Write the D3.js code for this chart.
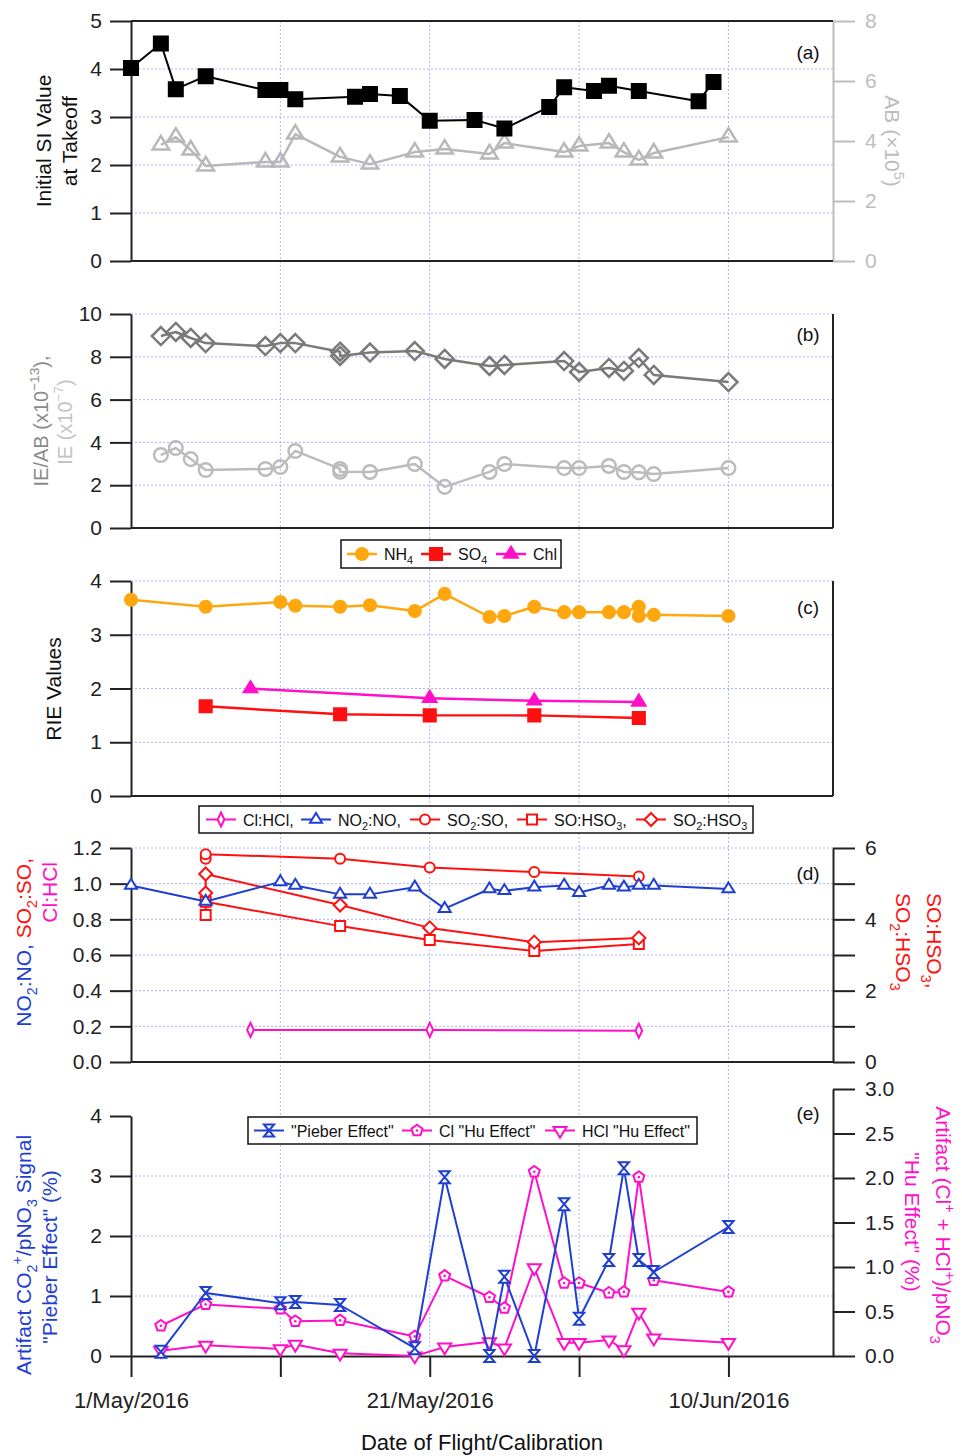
<!DOCTYPE html>
<html>
<head>
<meta charset="utf-8">
<script src="https://cdn.jsdelivr.net/npm/d3@7"></script>
<style>
  body { margin: 0; background: #fff; }
  svg { display: block; font-family: "Liberation Sans", Arial, sans-serif; }
</style>
</head>
<body>
<svg id="chart" width="962" height="1456"></svg>
<script>
const parseDay = (s) => d3.timeParse('%Y-%m-%d')('2016-' + s);

// ---- (a) initial SI value and AB ----
const siDates = ['05-01', '05-03', '05-04', '05-06', '05-10', '05-11', '05-12', '05-16', '05-17', '05-19',
  '05-21', '05-24', '05-26', '05-29', '05-30', '06-01', '06-02', '06-04', '06-08', '06-09'];
const siValues = [4.02, 4.53, 3.58, 3.85, 3.56, 3.56, 3.37, 3.42, 3.48, 3.44,
  2.92, 2.94, 2.76, 3.21, 3.62, 3.54, 3.65, 3.54, 3.33, 3.73];
const abDates = ['05-03', '05-04', '05-05', '05-06', '05-10', '05-11', '05-12', '05-15', '05-17', '05-20',
  '05-22', '05-25', '05-26', '05-30', '05-31', '06-02', '06-03', '06-04', '06-05', '06-10'];
const abValues = [3.87, 4.13, 3.7, 3.17, 3.3, 3.3, 4.23, 3.47, 3.23, 3.63,
  3.73, 3.57, 3.93, 3.63, 3.83, 3.93, 3.63, 3.37, 3.6, 4.13];

// ---- (b) IE/AB and IE ----
const calDates = ['05-03', '05-04', '05-05', '05-06', '05-10', '05-11', '05-12', '05-15', '05-15', '05-17',
  '05-20', '05-22', '05-25', '05-26', '05-30', '05-31', '06-02', '06-03', '06-04', '06-05', '06-10'];
const ieabValues = [8.97, 9.16, 8.88, 8.64, 8.5, 8.64, 8.64, 8.24, 8.04, 8.2,
  8.27, 7.9, 7.57, 7.62, 7.8, 7.29, 7.48, 7.34, 7.94, 7.15, 6.82];
const ieValues = [3.41, 3.74, 3.22, 2.71, 2.76, 2.85, 3.6, 2.76, 2.63, 2.62,
  2.99, 1.92, 2.62, 2.99, 2.8, 2.8, 2.9, 2.62, 2.6, 2.52, 2.8];

// ---- (c) RIE values ----
const nh4Dates = ['05-01', '05-06', '05-11', '05-12', '05-15', '05-17', '05-20', '05-22', '05-25', '05-26',
  '05-28', '05-30', '05-31', '06-02', '06-03', '06-04', '06-04', '06-05', '06-10'];
const nh4Values = [3.65, 3.52, 3.61, 3.54, 3.52, 3.55, 3.44, 3.76, 3.33, 3.35,
  3.52, 3.42, 3.42, 3.42, 3.42, 3.52, 3.35, 3.37, 3.35];
const so4Dates = ['05-06', '05-15', '05-21', '05-28', '06-04'];
const so4Values = [1.67, 1.52, 1.5, 1.5, 1.45];
const chlDates = ['05-09', '05-21', '05-28', '06-04'];
const chlValues = [2.0, 1.82, 1.77, 1.75];

// ---- (d) fragment ratios ----
const no2Dates = ['05-01', '05-06', '05-11', '05-12', '05-15', '05-17', '05-20', '05-22', '05-25', '05-26',
  '05-28', '05-30', '05-31', '06-02', '06-03', '06-04', '06-05', '06-10'];
const no2Values = [0.99, 0.90, 1.01, 0.99, 0.94, 0.94, 0.98, 0.86, 0.97, 0.96,
  0.98, 0.99, 0.95, 0.99, 0.98, 0.99, 0.99, 0.97];
const clhclDates = ['05-09', '05-21', '06-04'];
const clhclValues = [0.18, 0.18, 0.175];
const so2Dates = ['05-06', '05-06', '05-15', '05-21', '05-28', '06-04'];
const so2soValues = [1.14, 1.165, 1.14, 1.09, 1.065, 1.04];
const soHso3Values = [4.12, 4.49, 3.81, 3.42, 3.11, 3.31];
const so2Hso3Values = [4.74, 5.27, 4.4, 3.76, 3.36, 3.48];

// ---- (e) artifacts ----
const artDates = ['05-03', '05-06', '05-11', '05-12', '05-15', '05-20', '05-22', '05-25', '05-26', '05-28',
  '05-30', '05-31', '06-02', '06-03', '06-04', '06-05', '06-10'];
const pieberValues = [0.07, 1.05, 0.88, 0.9, 0.85, 0.13, 2.98, 0.0, 1.32, 0.0,
  2.53, 0.62, 1.6, 3.13, 1.6, 1.4, 2.15];
const clHuValues = [0.34, 0.58, 0.53, 0.39, 0.40, 0.22, 0.9, 0.66, 0.54, 2.07,
  0.82, 0.82, 0.71, 0.72, 2.01, 0.85, 0.72];
const hclHuValues = [0.06, 0.12, 0.08, 0.13, 0.03, 0.0, 0.1, 0.16, 0.09, 0.99,
  0.15, 0.15, 0.18, 0.07, 0.49, 0.2, 0.15];

// ---- axes ----
const dateTicks = ['05-01', '05-11', '05-21', '05-31', '06-10'];
const dateTickLabels = ['1/May/2016', '', '21/May/2016', '', '10/Jun/2016'];
const aLeftTicks = [0, 1, 2, 3, 4, 5];
const aRightTicks = [0, 2, 4, 6, 8];
const bTicks = [0, 2, 4, 6, 8, 10];
const cTicks = [0, 1, 2, 3, 4];
const dLeftTicks = [0, 0.2, 0.4, 0.6, 0.8, 1.0, 1.2];
const dRightTicks = [0, 1, 2, 3, 4, 5, 6];
const eLeftTicks = [0, 1, 2, 3, 4];
const eRightTicks = [0, 0.5, 1.0, 1.5, 2.0, 2.5, 3.0];

const BLUE = '#1f3fd0';
const RED = '#ff1010';
const MAG = '#ff10c8';
const ORANGE = '#ffa70f';
const AXIS = '#222';
const GRID = '#aab4ff';

const svg = d3.select('#chart');
const x = d3.scaleTime().domain([parseDay('05-01'), parseDay('06-17')]).range([131, 833]);
const [X0, X1] = x.range();

const yA = d3.scaleLinear().domain([0, 5]).range([261, 21]);
const yAR = d3.scaleLinear().domain([0, 8]).range([261, 21]);
const yB = d3.scaleLinear().domain([0, 10]).range([528, 314]);
const yC = d3.scaleLinear().domain([0, 4]).range([796, 581]);
const yD = d3.scaleLinear().domain([0, 1.2]).range([1062, 848]);
const yDR = d3.scaleLinear().domain([0, 6]).range([1062, 848]);
const yE = d3.scaleLinear().domain([0, 4]).range([1356, 1116]);
const yER = d3.scaleLinear().domain([0, 3]).range([1356, 1089]);

const gridG = svg.append('g');
const axisG = svg.append('g');
const markG = svg.append('g');
const textG = svg.append('g');

// vertical grid running through all panels
gridG.selectAll(null).data(dateTicks.slice(1)).enter().append('line')
  .attr('x1', (d) => x(parseDay(d))).attr('x2', (d) => x(parseDay(d)))
  .attr('y1', yA.range()[1]).attr('y2', yE.range()[0])
  .attr('stroke', GRID).attr('stroke-dasharray', '2,2');

function hGrid(yS, vals) {
  gridG.selectAll(null).data(vals).enter().append('line')
    .attr('x1', X0).attr('x2', X1).attr('y1', (d) => yS(d)).attr('y2', (d) => yS(d))
    .attr('stroke', GRID).attr('stroke-dasharray', '2,2');
}
hGrid(yA, [1, 2, 3, 4]);
hGrid(yB, [2, 4, 6, 8, 10]);
hGrid(yC, [1, 2, 3, 4]);
hGrid(yD, dLeftTicks.slice(1));
hGrid(yE, [1, 2, 3]);

function styleAxis(g, color) {
  g.attr('font-size', 21).attr('font-family', null).attr('color', color);
  g.selectAll('.domain, .tick line').attr('stroke-width', 2);
}
function leftAxis(yS, ticks, fmt) {
  const g = axisG.append('g').attr('transform', `translate(${X0},0)`)
    .call(d3.axisLeft(yS).tickValues(ticks).tickSize(21).tickSizeOuter(0).tickPadding(8)
      .tickFormat(fmt || d3.format('d')));
  styleAxis(g, AXIS);
}
function rightAxis(yS, ticks, fmt, color) {
  const g = axisG.append('g').attr('transform', `translate(${X1},0)`)
    .call(d3.axisRight(yS).tickValues(ticks).tickSize(22).tickSizeOuter(0).tickPadding(10)
      .tickFormat(fmt || d3.format('d')));
  styleAxis(g, color || AXIS);
}
function hLine(y0, color) {
  axisG.append('line').attr('x1', X0).attr('x2', X1).attr('y1', y0).attr('y2', y0)
    .attr('stroke', color || AXIS).attr('stroke-width', 2);
}
function rightBorder(yS) {
  axisG.append('line').attr('x1', X1).attr('x2', X1).attr('y1', yS.range()[0]).attr('y2', yS.range()[1])
    .attr('stroke', AXIS).attr('stroke-width', 2);
}

// (a)
leftAxis(yA, aLeftTicks);
rightAxis(yAR, aRightTicks, null, '#bdbdbd');
hLine(yA.range()[0]);
hLine(yA.range()[1]);
// (b)
leftAxis(yB, bTicks);
hLine(yB.range()[0]);
rightBorder(yB);
// (c)
leftAxis(yC, cTicks);
hLine(yC.range()[0]);
rightBorder(yC);
// (d)
leftAxis(yD, dLeftTicks, d3.format('.1f'));
rightAxis(yDR, dRightTicks, (d) => (d % 2 === 0 ? d : ''));
hLine(yD.range()[0]);
// (e)
leftAxis(yE, eLeftTicks);
rightAxis(yER, eRightTicks, d3.format('.1f'));
const bottom = axisG.append('g').attr('transform', `translate(0,${yE.range()[0]})`)
  .call(d3.axisBottom(x).tickValues(dateTicks.map(parseDay)).tickSize(21).tickSizeOuter(0).tickPadding(15)
    .tickFormat((d, i) => dateTickLabels[i]));
styleAxis(bottom, AXIS);
bottom.attr('font-size', 22);

// ---- markers & series ----
function markerPath(type, s) {
  switch (type) {
    case 'square': return `M${-s},${-s}H${s}V${s}H${-s}Z`;
    case 'triUp': return `M0,${-1.2 * s}L${1.1 * s},${0.6 * s}L${-1.1 * s},${0.6 * s}Z`;
    case 'triDown': return `M0,${1.2 * s}L${1.1 * s},${-0.6 * s}L${-1.1 * s},${-0.6 * s}Z`;
    case 'diamond': return `M0,${-s}L${s},0L0,${s}L${-s},0Z`;
    case 'thinDiamond': return `M0,${-s}L${0.48 * s},0L0,${s}L${-0.48 * s},0Z`;
    case 'hourglass': return `M${-0.85 * s},${-s}H${0.85 * s}L${-0.85 * s},${s}H${0.85 * s}Z`;
    case 'pentagon': {
      const pts = d3.range(5).map((k) => {
        const a = -Math.PI / 2 + (k * 2 * Math.PI) / 5;
        return [s * Math.cos(a), s * Math.sin(a)];
      });
      return `M${pts.map((p) => p.join(',')).join('L')}Z`;
    }
    default: return `M${s},0A${s},${s} 0 1,1 ${-s},0A${s},${s} 0 1,1 ${s},0Z`;
  }
}

function drawMarker(g, cx, cy, st) {
  g.append('path').attr('transform', `translate(${cx},${cy})`)
    .attr('d', markerPath(st.marker, st.size))
    .attr('fill', st.fill || 'none').attr('stroke', st.color).attr('stroke-width', st.mw || st.lw);
  if (st.marker === 'pentagon') {
    g.append('circle').attr('cx', cx).attr('cy', cy).attr('r', 1.3).attr('fill', st.color);
  }
}

function series(dates, values, yS, st) {
  const pts = dates.map((d, i) => [x(parseDay(d)), yS(values[i])]);
  markG.append('path').datum(pts).attr('d', d3.line())
    .attr('fill', 'none').attr('stroke', st.color).attr('stroke-width', st.lw).attr('stroke-linejoin', 'round');
  pts.forEach((p) => drawMarker(markG, p[0], p[1], st));
}

const stSI = { color: '#000', lw: 2, marker: 'square', size: 7, fill: '#000' };
const stAB = { color: '#b8b8b8', lw: 2.5, marker: 'triUp', size: 7.5 };
const stIEAB = { color: '#7a7a7a', lw: 2.5, marker: 'diamond', size: 9 };
const stIE = { color: '#bcbcbc', lw: 2.5, marker: 'circle', size: 6.8 };
const stNH4 = { color: ORANGE, lw: 2.5, marker: 'circle', size: 5.8, fill: ORANGE };
const stSO4 = { color: RED, lw: 2.5, marker: 'square', size: 5.8, fill: RED };
const stChl = { color: MAG, lw: 2.5, marker: 'triUp', size: 5.8, fill: MAG };
const stClHCl = { color: MAG, lw: 2, marker: 'thinDiamond', size: 7, fill: '#fff' };
const stNO2 = { color: BLUE, lw: 2, marker: 'triUp', size: 5.5, fill: '#fff' };
const stSO2SO = { color: RED, lw: 2, marker: 'circle', size: 5, fill: '#fff' };
const stSOHSO3 = { color: RED, lw: 2, marker: 'square', size: 5, fill: '#fff' };
const stSO2HSO3 = { color: RED, lw: 2, marker: 'diamond', size: 6.5, fill: '#fff' };
const stPieber = { color: BLUE, lw: 2, marker: 'hourglass', size: 6, fill: '#fff' };
const stClHu = { color: MAG, lw: 2, marker: 'pentagon', size: 5.8, fill: '#fff' };
const stHClHu = { color: MAG, lw: 2, marker: 'triDown', size: 6, fill: '#fff' };

series(abDates, abValues, yAR, stAB);
series(siDates, siValues, yA, stSI);
series(calDates, ieValues, yB, stIE);
series(calDates, ieabValues, yB, stIEAB);
series(nh4Dates, nh4Values, yC, stNH4);
series(so4Dates, so4Values, yC, stSO4);
series(chlDates, chlValues, yC, stChl);
series(so2Dates, soHso3Values, yDR, stSOHSO3);
series(so2Dates, so2Hso3Values, yDR, stSO2HSO3);
series(so2Dates, so2soValues, yD, stSO2SO);
series(clhclDates, clhclValues, yD, stClHCl);
series(no2Dates, no2Values, yD, stNO2);
series(artDates, hclHuValues, yER, stHClHu);
series(artDates, clHuValues, yER, stClHu);
series(artDates, pieberValues, yE, stPieber);

// ---- text helpers ----
function rich(sel, segments, fs) {
  let shift = 0;
  segments.forEach(([str, color]) => {
    str.split(/(_\{[^}]*\}|\^\{[^}]*\})/).filter((s) => s !== '').forEach((part) => {
      let target = 0;
      let t = part;
      let size = fs;
      if (part.startsWith('_{')) { target = fs * 0.28; t = part.slice(2, -1); size = fs * 0.68; }
      else if (part.startsWith('^{')) { target = -fs * 0.45; t = part.slice(2, -1); size = fs * 0.68; }
      sel.append('tspan').attr('dy', target - shift).attr('font-size', size).attr('fill', color).text(t);
      shift = target;
    });
  });
}
function title(tx, ty, angle, anchor, segments, fs) {
  const t = textG.append('text').attr('transform', `translate(${tx},${ty}) rotate(${angle})`)
    .attr('text-anchor', anchor).attr('font-size', fs);
  rich(t, segments, fs);
}

title(51, 141, -90, 'middle', [['Initial SI Value', '#111']], 21);
title(77, 141, -90, 'middle', [['at Takeoff', '#111']], 21);
title(885, 141, 90, 'middle', [['AB (×10^{5})', '#bdbdbd']], 21);
title(48, 421, -90, 'middle', [['IE/AB (x10^{−13}),', '#8a8a8a']], 20);
title(72, 422, -90, 'middle', [['IE (x10^{−7})', '#c4c4c4']], 20);
title(61, 689, -90, 'middle', [['RIE Values', '#111']], 21);
title(31, 858, -90, 'end', [['NO_{2}:NO, ', BLUE], ['SO_{2}:SO,', RED]], 21);
title(57, 862, -90, 'end', [['Cl:HCl', MAG]], 21);
title(927, 893, 90, 'start', [['SO:HSO_{3},', RED]], 21);
title(896, 893, 90, 'start', [['SO_{2}:HSO_{3}', RED]], 21);
title(31, 1255, -90, 'middle', [['Artifact CO_{2}^{+}/pNO_{3} Signal', BLUE]], 21);
title(57, 1257, -90, 'middle', [['"Pieber Effect" (%)', BLUE]], 21);
title(936, 1225, 90, 'middle', [['Artifact (Cl^{+} + HCl^{+})/pNO_{3}', MAG]], 21);
title(905, 1222, 90, 'middle', [['"Hu Effect" (%)', MAG]], 21);
title(482, 1450, 0, 'middle', [['Date of Flight/Calibration', '#111']], 22);

// panel letters
[['(a)', 59], ['(b)', 341], ['(c)', 614], ['(d)', 880], ['(e)', 1120]].forEach(([lbl, ty]) => {
  textG.append('text').attr('x', 808).attr('y', ty).attr('text-anchor', 'middle')
    .attr('font-size', 19).attr('fill', '#111').text(lbl);
});

// ---- legends ----
function legend(bx, by, bw, bh, items) {
  const g = textG.append('g');
  g.append('rect').attr('x', bx).attr('y', by).attr('width', bw).attr('height', bh)
    .attr('fill', '#fff').attr('stroke', '#111').attr('stroke-width', 1.5);
  const cy = by + bh / 2;
  items.forEach((it) => {
    g.append('line').attr('x1', it.sx).attr('x2', it.sx + 30).attr('y1', cy).attr('y2', cy)
      .attr('stroke', it.st.color).attr('stroke-width', it.st.lw);
    drawMarker(g, it.sx + 15, cy, { ...it.st, fill: it.st.fill || '#fff' });
    const t = g.append('text').attr('x', it.sx + 37).attr('y', cy + 6).attr('font-size', 16);
    rich(t, [[it.label, '#111']], 16);
  });
}
legend(341, 540, 220, 28, [
  { sx: 347, st: stNH4, label: 'NH_{4}' },
  { sx: 421, st: stSO4, label: 'SO_{4}' },
  { sx: 496, st: stChl, label: 'Chl' },
]);
legend(199, 806, 554, 27, [
  { sx: 206, st: stClHCl, label: 'Cl:HCl,' },
  { sx: 301, st: stNO2, label: 'NO_{2}:NO,' },
  { sx: 410, st: stSO2SO, label: 'SO_{2}:SO,' },
  { sx: 517, st: stSOHSO3, label: 'SO:HSO_{3},' },
  { sx: 636, st: stSO2HSO3, label: 'SO_{2}:HSO_{3}' },
]);
legend(248, 1117, 449, 27, [
  { sx: 254, st: stPieber, label: '"Pieber Effect"' },
  { sx: 402, st: stClHu, label: 'Cl "Hu Effect"' },
  { sx: 545, st: stHClHu, label: 'HCl "Hu Effect"' },
]);
</script>
</body>
</html>
